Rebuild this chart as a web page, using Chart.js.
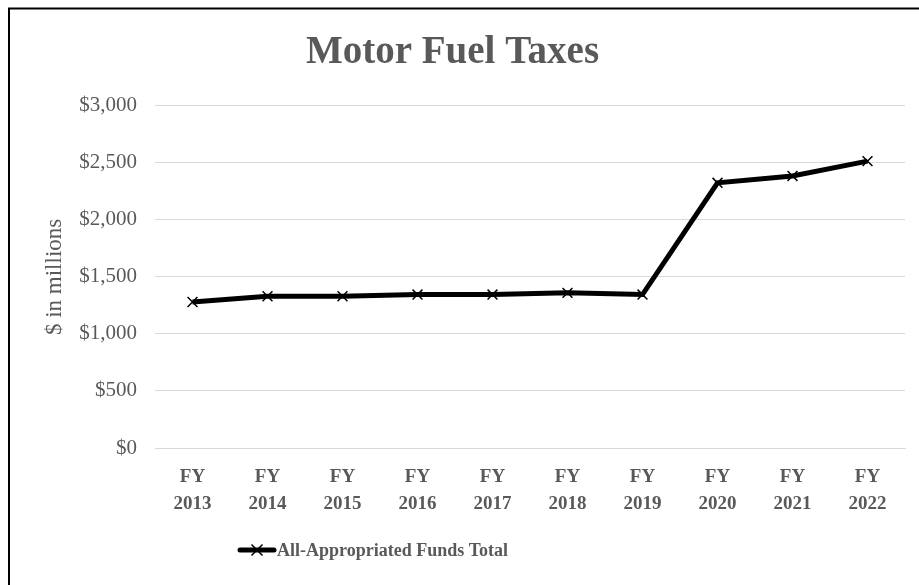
<!DOCTYPE html>
<html>
<head>
<meta charset="utf-8">
<style>
  html, body { margin: 0; padding: 0; background: #fff; }
  #wrap { position: relative; width: 919px; height: 585px; }
</style>
<script src="https://cdn.jsdelivr.net/npm/chart.js@4/dist/chart.umd.min.js"></script>
</head>
<body>
<div id="wrap"><canvas id="c" width="919" height="585"></canvas></div>
<script>
const categories = [["FY","2013"],["FY","2014"],["FY","2015"],["FY","2016"],["FY","2017"],["FY","2018"],["FY","2019"],["FY","2020"],["FY","2021"],["FY","2022"]];
const seriesName = "All-Appropriated Funds Total";
const values = [1280, 1330, 1330, 1345, 1345, 1360, 1345, 2325, 2385, 2515];
const yTicks = [0, 500, 1000, 1500, 2000, 2500, 3000];
const chartTitle = "Motor Fuel Taxes";
const yTitle = "$ in millions";

const GREY = '#595959';
const SERIF = "'Liberation Serif', 'Times New Roman', serif";

const framePlugin = {
  id: 'frame',
  beforeDraw(chart) {
    const ctx = chart.ctx;
    ctx.save();
    ctx.fillStyle = '#fff';
    ctx.fillRect(0, 0, chart.width, chart.height);
    ctx.restore();
  },
  afterDraw(chart) {
    const ctx = chart.ctx;
    ctx.save();
    ctx.strokeStyle = '#000';
    ctx.lineWidth = 2;
    ctx.strokeRect(9, 8.5, 1000, 1000);
    // custom legend
    const ds = chart.data.datasets[0];
    const y = 550;
    ctx.strokeStyle = ds.borderColor;
    ctx.lineWidth = ds.borderWidth;
    ctx.lineCap = 'round';
    ctx.beginPath();
    ctx.moveTo(240, y);
    ctx.lineTo(274, y);
    ctx.stroke();
    ctx.lineWidth = 1.5;
    ctx.lineCap = 'butt';
    const r = 5.5;
    ctx.beginPath();
    ctx.moveTo(257 - r, y - r); ctx.lineTo(257 + r, y + r);
    ctx.moveTo(257 + r, y - r); ctx.lineTo(257 - r, y + r);
    ctx.stroke();
    ctx.fillStyle = GREY;
    ctx.font = "bold 18px " + SERIF;
    ctx.textBaseline = 'middle';
    ctx.textAlign = 'left';
    ctx.fillText(ds.label, 277, y + 1);
    ctx.restore();
  }
};

new Chart(document.getElementById('c'), {
  type: 'line',
  data: {
    labels: categories,
    datasets: [{
      label: seriesName,
      data: values,
      borderColor: '#000',
      backgroundColor: '#000',
      borderWidth: 5,
      tension: 0,
      pointStyle: 'crossRot',
      pointRadius: 7,
      pointHoverRadius: 7,
      pointBorderWidth: 1.5,
      pointBorderColor: '#000'
    }]
  },
  options: {
    responsive: false,
    animation: false,
    layout: { padding: { top: 8, right: 14, bottom: 0, left: 0 } },
    plugins: {
      legend: { display: false },
      tooltip: { enabled: false },
      title: {
        display: true,
        text: chartTitle,
        color: GREY,
        font: { family: SERIF, size: 39, weight: 'bold' },
        padding: { top: 22, bottom: 29 }
      }
    },
    scales: {
      x: {
        offset: true,
        grid: { display: false, drawTicks: false },
        border: { display: true, color: '#d9d9d9', width: 1 },
        ticks: {
          color: GREY,
          padding: 16,
          maxRotation: 0,
          autoSkip: false,
          font: { family: SERIF, size: 19, weight: 'bold', lineHeight: 1.4 }
        },
        afterFit(s) { s.height = 137; }
      },
      y: {
        min: 0,
        max: 3000,
        afterBuildTicks(s) { s.ticks = yTicks.map(v => ({ value: v })); },
        grid: { color: '#d9d9d9', lineWidth: 1, drawTicks: false },
        border: { display: false },
        ticks: {
          color: GREY,
          padding: 18,
          font: { family: SERIF, size: 21 },
          callback: v => '$' + Number(v).toLocaleString('en-US')
        },
        title: {
          display: true,
          text: yTitle,
          color: GREY,
          font: { family: SERIF, size: 23 },
          padding: { top: 41, bottom: 0 }
        },
        afterFit(s) { s.width = 155; }
      }
    }
  },
  plugins: [framePlugin]
});
</script>
</body>
</html>
